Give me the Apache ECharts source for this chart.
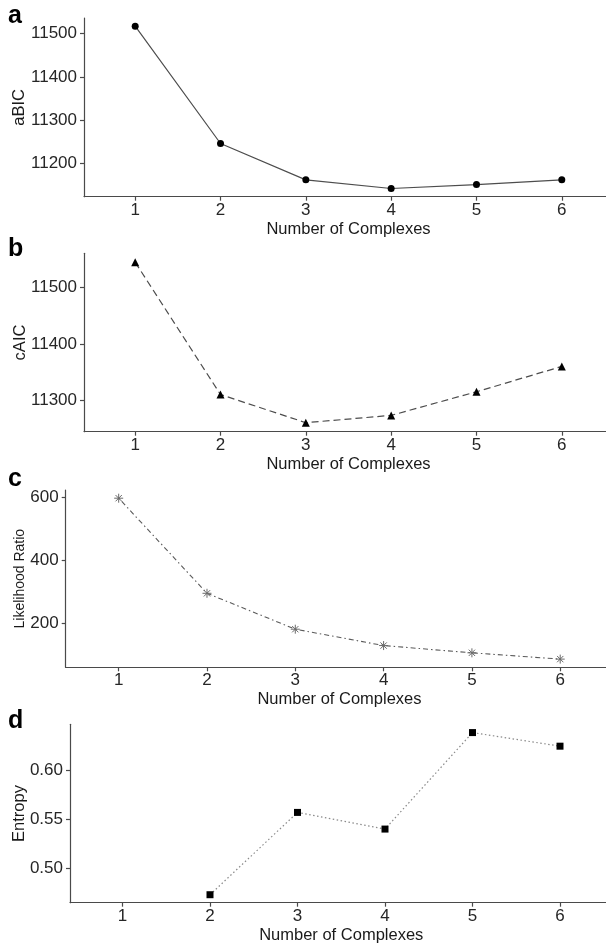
<!DOCTYPE html>
<html>
<head>
<meta charset="utf-8">
<script src="https://cdn.jsdelivr.net/npm/echarts@6/dist/echarts.min.js"></script>
<style>html,body{margin:0;padding:0;background:#fff}#c{width:606px;height:946px}</style>
</head>
<body>
<div id="c"></div>
<script>
var complexes = [1, 2, 3, 4, 5, 6];
var aBIC = [11517, 11246, 11162, 11142, 11151, 11162];
var cAIC = [11545, 11310, 11260, 11273, 11315, 11360];
var likelihoodRatio = [597, 295, 181, 129, 106, 86];
var entropy = [null, 0.4736, 0.5571, 0.5402, 0.6381, 0.6243];
var ticksA = [11200, 11300, 11400, 11500];
var ticksB = [11300, 11400, 11500];
var ticksC = [200, 400, 600];
var ticksD = [0.50, 0.55, 0.60];
var panelLetters = ['a', 'b', 'c', 'd'];

var FONT = 'Liberation Sans';
var axisCol = '#4a4a4a';

function pairs(vals) {
  return complexes.map(function (c, i) { return [c, vals[i]]; });
}

var grids = [
  {left: 84, top: 18, width: 529, height: 178.7, outerBoundsMode: 'none', containLabel: false},
  {left: 84, top: 253.3, width: 529, height: 178.4, outerBoundsMode: 'none', containLabel: false},
  {left: 65.7, top: 490, width: 547.5, height: 177.3, outerBoundsMode: 'none', containLabel: false},
  {left: 70, top: 724.3, width: 542.5, height: 178.4, outerBoundsMode: 'none', containLabel: false}
];

function xAx(gi) {
  return {
    type: 'value', gridIndex: gi, min: 0.4, max: 6.6,
    name: 'Number of Complexes', nameLocation: 'middle', nameGap: 24, nameMoveOverlap: false,
    nameTextStyle: {fontFamily: FONT, fontSize: 16.5, color: '#1a1a1a'},
    axisLine: {show: true, lineStyle: {color: axisCol, width: 1.2}},
    axisTick: {show: true, length: 4, lineStyle: {color: axisCol, width: 1.2}, customValues: complexes},
    axisLabel: {fontFamily: FONT, fontSize: 17, color: '#262626', margin: 5, customValues: complexes},
    splitLine: {show: false}
  };
}
function yAx(gi, name, min, max, ticks, gap, nameSize, fmt) {
  return {
    type: 'value', gridIndex: gi, min: min, max: max,
    name: name, nameLocation: 'middle', nameGap: gap, nameRotate: 90, nameMoveOverlap: false,
    nameTextStyle: {fontFamily: FONT, fontSize: nameSize, color: '#1a1a1a'},
    axisLine: {show: true, lineStyle: {color: axisCol, width: 1.2}},
    axisTick: {show: true, length: 4, lineStyle: {color: axisCol, width: 1.2}, customValues: ticks},
    axisLabel: {fontFamily: FONT, fontSize: 17, color: '#262626', margin: 7, customValues: ticks,
      formatter: fmt || function (v) { return String(v); }},
    splitLine: {show: false}
  };
}

var asterisk = 'path://M5,0 L5,10 M0,5 L10,5 M1.5,1.5 L8.5,8.5 M8.5,1.5 L1.5,8.5';

var option = {
  animation: false,
  backgroundColor: '#fff',
  grid: grids,
  xAxis: [xAx(0), xAx(1), xAx(2), xAx(3)],
  yAxis: [
    yAx(0, 'aBIC', 11123, 11536, ticksA, 56, 16.5),
    yAx(1, 'cAIC', 11244, 11561, ticksB, 55, 16.5),
    yAx(2, 'Likelihood Ratio', 60, 623, ticksC, 39, 14),
    yAx(3, 'Entropy', 0.4655, 0.6465, ticksD, 42, 16.5, function (v) { return v.toFixed(2); })
  ],
  series: [
    {type: 'line', xAxisIndex: 0, yAxisIndex: 0, data: pairs(aBIC),
      symbol: 'circle', symbolSize: 7, itemStyle: {color: '#000'},
      lineStyle: {color: '#4d4d4d', width: 1.2}},
    {type: 'line', xAxisIndex: 1, yAxisIndex: 1, data: pairs(cAIC),
      symbol: 'triangle', symbolSize: 8, itemStyle: {color: '#000'},
      lineStyle: {color: '#4d4d4d', width: 1.2, type: [7, 4]}},
    {type: 'line', xAxisIndex: 2, yAxisIndex: 2, data: pairs(likelihoodRatio),
      symbol: asterisk, symbolSize: 9,
      itemStyle: {color: 'none', borderColor: '#6a6a6a', borderWidth: 1},
      lineStyle: {color: '#5a5a5a', width: 1.1, type: [1.5, 3, 5, 3]}},
    {type: 'line', xAxisIndex: 3, yAxisIndex: 3, data: pairs(entropy), connectNulls: false,
      symbol: 'rect', symbolSize: 7, itemStyle: {color: '#000'},
      lineStyle: {color: '#8a8a8a', width: 1.2, type: [1.5, 2.5]}}
  ],
  graphic: [
    {type: 'text', left: 8, top: 4, style: {text: panelLetters[0], fontFamily: FONT, fontWeight: 'bold', fontSize: 25, fill: '#000'}},
    {type: 'text', left: 8, top: 237, style: {text: panelLetters[1], fontFamily: FONT, fontWeight: 'bold', fontSize: 25, fill: '#000'}},
    {type: 'text', left: 8, top: 467, style: {text: panelLetters[2], fontFamily: FONT, fontWeight: 'bold', fontSize: 25, fill: '#000'}},
    {type: 'text', left: 8, top: 709, style: {text: panelLetters[3], fontFamily: FONT, fontWeight: 'bold', fontSize: 25, fill: '#000'}}
  ]
};
var chart = echarts.init(document.getElementById('c'), null, {renderer: 'canvas'});
chart.setOption(option);
</script>
</body>
</html>
